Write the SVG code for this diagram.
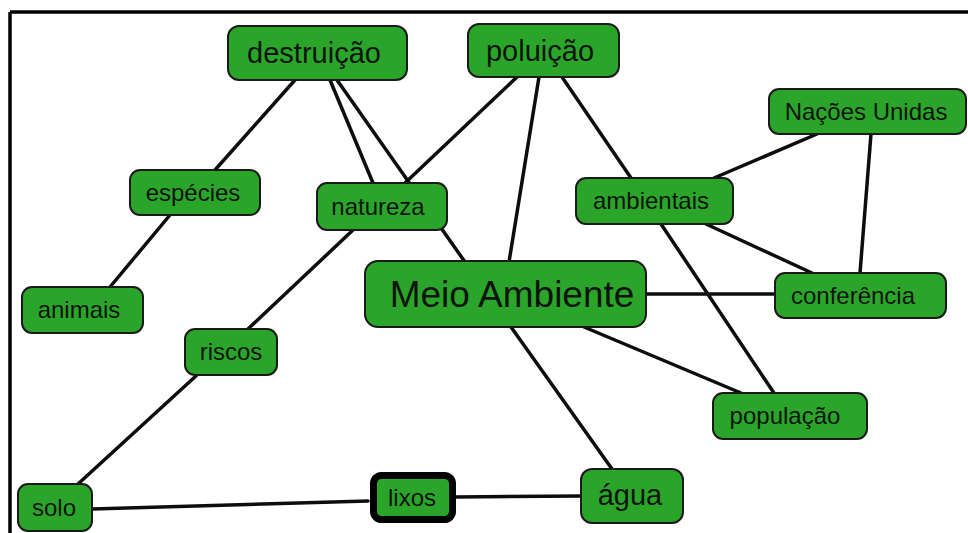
<svg xmlns="http://www.w3.org/2000/svg" width="968" height="533" viewBox="0 0 968 533">
<style>
.n rect{fill:#2aa52a;stroke:#1a1a1a;stroke-width:2}
.n text{font-family:"Liberation Sans",Arial,sans-serif;fill:#0d140d;text-anchor:middle}
.s{font-size:24px}
.m{font-size:29px}
.l{font-size:37px}
#edges line{stroke:#0d0d0d;stroke-width:3.5;stroke-linecap:round}
</style>
<rect width="968" height="533" fill="#fff"/>
<g id="frame" stroke="#000" stroke-width="3.5" fill="none">
<line x1="10" y1="12" x2="968" y2="12"/>
<line x1="10" y1="12" x2="10" y2="533"/>
</g>
<g id="edges">
<line x1="295" y1="80" x2="215" y2="170"/>
<line x1="330" y1="80" x2="373" y2="183"/>
<line x1="337" y1="80" x2="465" y2="262"/>
<line x1="517" y1="77" x2="405" y2="183"/>
<line x1="539" y1="77" x2="509" y2="262"/>
<line x1="562" y1="77" x2="631" y2="178"/>
<line x1="817" y1="134" x2="714" y2="178"/>
<line x1="871" y1="134" x2="860" y2="273"/>
<line x1="706" y1="224" x2="812" y2="273"/>
<line x1="661" y1="224" x2="774" y2="393"/>
<line x1="646" y1="294" x2="775" y2="294"/>
<line x1="584" y1="327" x2="741" y2="393"/>
<line x1="511" y1="327" x2="612" y2="469"/>
<line x1="455" y1="497" x2="581" y2="496"/>
<line x1="92" y1="509" x2="368" y2="501"/>
<line x1="197" y1="375" x2="78" y2="484"/>
<line x1="248" y1="329" x2="353" y2="230"/>
<line x1="170" y1="215" x2="110" y2="287"/>
</g>
<g id="destruicao" class="n"><rect x="228" y="26" width="179" height="54" rx="11"/><text class="m" x="314" y="63">destruição</text></g>
<g id="poluicao" class="n"><rect x="468" y="24" width="151" height="53" rx="11"/><text class="m" x="540" y="61">poluição</text></g>
<g id="especies" class="n"><rect x="130" y="170" width="130" height="45" rx="10"/><text class="s" x="193" y="201">espécies</text></g>
<g id="natureza" class="n"><rect x="317" y="183" width="130" height="47" rx="10"/><text class="s" x="378" y="215">natureza</text></g>
<g id="nacoes-unidas" class="n"><rect x="769" y="89" width="197" height="45" rx="10"/><text class="s" x="866" y="120">Nações Unidas</text></g>
<g id="ambientais" class="n"><rect x="576" y="178" width="157" height="46" rx="10"/><text class="s" x="651" y="209">ambientais</text></g>
<g id="meio-ambiente" class="n"><rect x="365" y="261" width="281" height="66" rx="13"/><text class="l" x="512" y="307">Meio Ambiente</text></g>
<g id="conferencia" class="n"><rect x="775" y="273" width="171" height="45" rx="10"/><text class="s" x="853" y="304">conferência</text></g>
<g id="animais" class="n"><rect x="22" y="287" width="121" height="46" rx="10"/><text class="s" x="79" y="318">animais</text></g>
<g id="riscos" class="n"><rect x="185" y="329" width="92" height="46" rx="10"/><text class="s" x="231" y="360">riscos</text></g>
<g id="populacao" class="n"><rect x="713" y="393" width="154" height="46" rx="10"/><text class="s" x="785" y="424">população</text></g>
<g id="agua" class="n"><rect x="581" y="469" width="102" height="54" rx="11"/><text class="m" x="630" y="505">água</text></g>
<g id="solo" class="n"><rect x="18" y="484" width="74" height="47" rx="10"/><text class="s" x="54" y="516">solo</text></g>
<g id="lixos" class="n"><rect x="373.5" y="475.5" width="79" height="44" rx="8" style="stroke:#000;stroke-width:7"/><text class="s" x="412" y="506">lixos</text></g>
</svg>
